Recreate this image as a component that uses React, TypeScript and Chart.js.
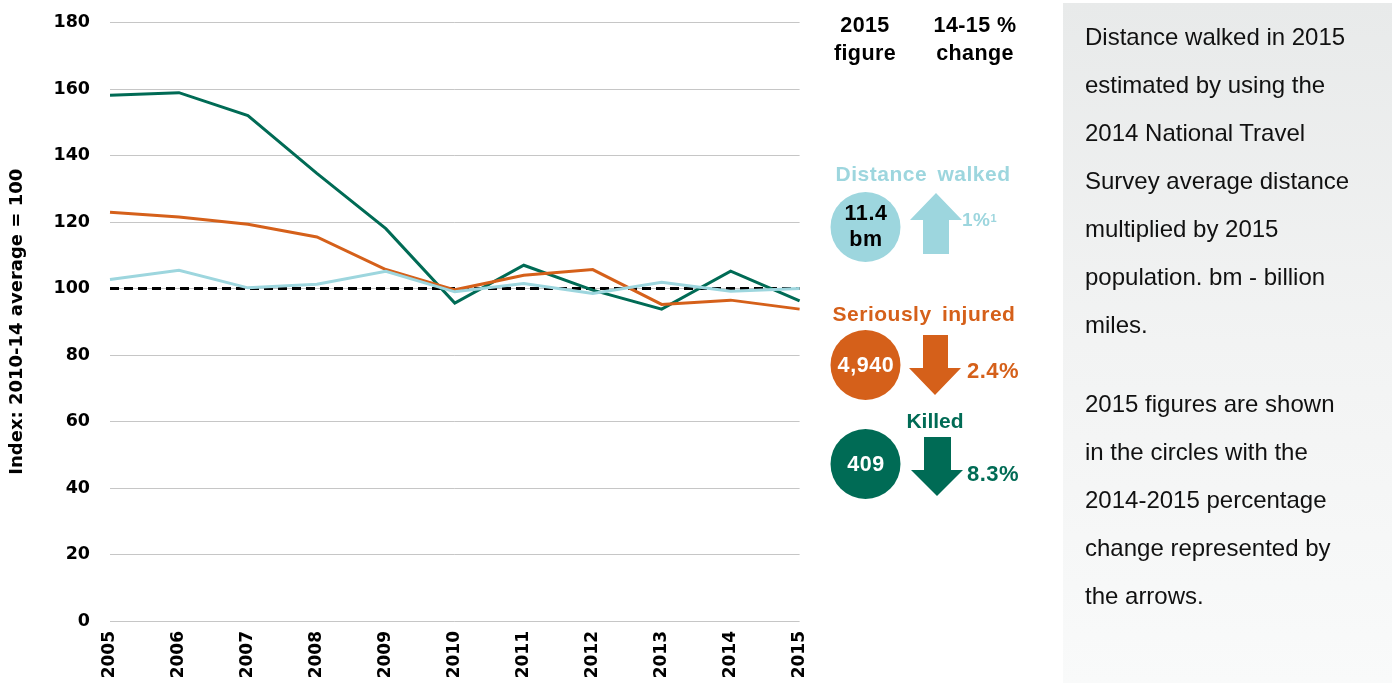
import React, { useEffect, useRef } from "react";
import { Chart, registerables } from "chart.js";

Chart.register(...registerables);

// ---- data ----
const years = ["2005", "2006", "2007", "2008", "2009", "2010", "2011", "2012", "2013", "2014", "2015"];
const distanceWalked = [102.7, 105.5, 100.2, 101.3, 105.2, 99.0, 101.5, 98.5, 101.9, 99.2, 100.0];
const seriouslyInjured = [122.9, 121.5, 119.3, 115.5, 105.7, 99.6, 104.0, 105.7, 95.2, 96.5, 93.8];
const killed = [158.1, 158.9, 152.0, 134.6, 118.0, 95.6, 107.0, 99.5, 93.8, 105.2, 96.3];
const baseline = [100, 100, 100, 100, 100, 100, 100, 100, 100, 100, 100];
const yMin = 0;
const yMax = 180;
const yStep = 20;
const yTitle = "Index: 2010-14 average = 100";

const headerFigure = ["2015", "figure"];
const headerChange = ["14-15 %", "change"];
const panelItems = [
  { name: "Distance walked", figure: ["11.4", "bm"], change: "1%", sup: "1", dir: "up" },
  { name: "Seriously injured", figure: ["4,940"], change: "2.4%", sup: "", dir: "down" },
  { name: "Killed", figure: ["409"], change: "8.3%", sup: "", dir: "down" },
];
const noteParagraphs = [
  [
    "Distance walked in 2015",
    "estimated by using the",
    "2014 National Travel",
    "Survey average distance",
    "multiplied by 2015",
    "population. bm - billion",
    "miles.",
  ],
  [
    "2015 figures are shown",
    "in the circles with the",
    "2014-2015 percentage",
    "change represented by",
    "the arrows.",
  ],
];

// ---- styles ----
const FONT = "'Liberation Sans', Arial, Helvetica, sans-serif";
const AXIS_FONT = "'DejaVu Sans', 'Liberation Sans', Arial, sans-serif";
const GREEN = "#006b55";
const ORANGE = "#d5601a";
const BLUE = "#9dd6de";

function LineChart() {
  const ref = useRef<HTMLCanvasElement | null>(null);
  useEffect(() => {
    if (!ref.current) return;
    const chart = new Chart(ref.current, {
      type: "line",
      data: {
        labels: years,
        datasets: [
          { label: "Distance walked", data: distanceWalked, borderColor: BLUE, borderWidth: 3 },
          { label: "Seriously injured", data: seriouslyInjured, borderColor: ORANGE, borderWidth: 3 },
          { label: "Killed", data: killed, borderColor: GREEN, borderWidth: 3 },
          { label: "Baseline", data: baseline, borderColor: "#000", borderWidth: 3, borderDash: [9, 5] },
        ],
      },
      options: {
        responsive: false,
        animation: false,
        layout: { padding: { left: 0, right: 10, top: 16, bottom: 0 } },
        plugins: { legend: { display: false }, tooltip: { enabled: false } },
        elements: { point: { radius: 0 }, line: { tension: 0 } },
        scales: {
          x: {
            grid: { display: false, drawTicks: false },
            border: { display: false },
            ticks: {
              font: { family: AXIS_FONT, size: 17, weight: "bold" },
              color: "#000",
              maxRotation: 90,
              minRotation: 90,
              padding: 10,
              autoSkip: false,
            },
            afterFit: (s: any) => {
              s.height = 62;
            },
          },
          y: {
            min: yMin,
            max: yMax,
            ticks: {
              stepSize: yStep,
              font: { family: AXIS_FONT, size: 17.5, weight: "bold" },
              color: "#000",
              padding: 20,
            },
            grid: { color: "#c6c6c6", lineWidth: 1, drawTicks: false },
            border: { display: false },
            title: {
              display: true,
              text: yTitle,
              font: { family: AXIS_FONT, size: 18, weight: "bold" },
              color: "#000",
              padding: { top: 7, bottom: 0 },
            },
            afterFit: (s: any) => {
              s.width = 110;
            },
          },
        },
      },
    } as any);
    return () => chart.destroy();
  }, []);
  return <canvas ref={ref} width={830} height={691} style={{ position: "absolute", left: 0, top: -8 }} />;
}

function CenterText(props: { cx: number; cy: number; w: number; h: number; style?: any; children: any }) {
  const { cx, cy, w, h, style, children } = props;
  return (
    <div
      style={{
        position: "absolute",
        left: cx - w / 2,
        top: cy - h / 2,
        width: w,
        height: h,
        display: "flex",
        flexDirection: "column",
        alignItems: "center",
        justifyContent: "center",
        whiteSpace: "nowrap",
        fontFamily: FONT,
        ...style,
      }}
    >
      {children}
    </div>
  );
}

const itemColors = [BLUE, ORANGE, GREEN];
const itemNameY = [174, 314, 421];
const itemNameX = [923, 924, 935];
const circleY = [227, 365, 464];
const changeY = [220, 371, 474];
const arrows = [
  "936,193 962,220 949,220 949,254 923,254 923,220 910,220",
  "923,335 948,335 948,368 961,368 935,395 909,368 923,368",
  "924,437 951,437 951,470 963,470 937,496 911,470 924,470",
];

function SidePanel() {
  const headStyle = { fontWeight: "bold", fontSize: 21.5, letterSpacing: 0.4, color: "#000", lineHeight: "28px" };
  return (
    <>
      <CenterText cx={865} cy={39} w={110} h={60} style={headStyle}>
        {headerFigure.map((t) => (
          <div key={t}>{t}</div>
        ))}
      </CenterText>
      <CenterText cx={975} cy={39} w={110} h={60} style={headStyle}>
        {headerChange.map((t) => (
          <div key={t}>{t}</div>
        ))}
      </CenterText>
      <svg width={1392} height={683} style={{ position: "absolute", left: 0, top: 0 }}>
        {panelItems.map((it, i) => (
          <g key={it.name}>
            <circle cx={865.5} cy={circleY[i]} r={35} fill={itemColors[i]} />
            <polygon points={arrows[i]} fill={itemColors[i]} />
          </g>
        ))}
      </svg>
      {panelItems.map((it, i) => (
        <React.Fragment key={it.name}>
          <CenterText
            cx={itemNameX[i]}
            cy={itemNameY[i]}
            w={220}
            h={30}
            style={{ fontWeight: "bold", fontSize: 21, letterSpacing: i === 2 ? 0 : 0.5, wordSpacing: 4, color: itemColors[i] }}
          >
            {it.name}
          </CenterText>
          <CenterText
            cx={866}
            cy={circleY[i] - (it.figure.length > 1 ? 1 : 0)}
            w={70}
            h={60}
            style={{ fontWeight: "bold", fontSize: 21.5, letterSpacing: 0.6, lineHeight: "26px", color: i === 0 ? "#000" : "#fff" }}
          >
            {it.figure.map((t) => (
              <div key={t}>{t}</div>
            ))}
          </CenterText>
          <div
            style={{
              position: "absolute",
              left: i === 0 ? 962 : 967,
              top: changeY[i] - 15,
              height: 30,
              lineHeight: "30px",
              whiteSpace: "nowrap",
              fontFamily: FONT,
              fontWeight: "bold",
              fontSize: i === 0 ? 19 : 22,
              letterSpacing: 0.5,
              color: itemColors[i],
            }}
          >
            {it.change}
            {it.sup ? (
              <span style={{ fontSize: 11, verticalAlign: "top", position: "relative", top: -2, fontWeight: "bold" }}>{it.sup}</span>
            ) : null}
          </div>
        </React.Fragment>
      ))}
    </>
  );
}

function NotePanel() {
  return (
    <div
      style={{
        position: "absolute",
        left: 1063,
        top: 3,
        width: 329,
        height: 680,
        background: "linear-gradient(180deg, #e8eaea 0%, #f2f3f3 50%, #f9fafa 100%)",
        fontFamily: FONT,
        fontSize: 24,
        color: "#111",
        boxSizing: "border-box",
      }}
    >
      {noteParagraphs.map((para, pi) => (
        <div key={pi} style={{ position: "absolute", left: 22, top: pi === 0 ? 10 : 377 }}>
          {para.map((line) => (
            <div key={line} style={{ height: 48, lineHeight: "48px", whiteSpace: "nowrap" }}>
              {line}
            </div>
          ))}
        </div>
      ))}
    </div>
  );
}

export default function App() {
  return (
    <div style={{ position: "absolute", left: 0, top: 0, width: 1392, height: 683, background: "#fff", overflow: "hidden" }}>
      <LineChart />
      <SidePanel />
      <NotePanel />
    </div>
  );
}
